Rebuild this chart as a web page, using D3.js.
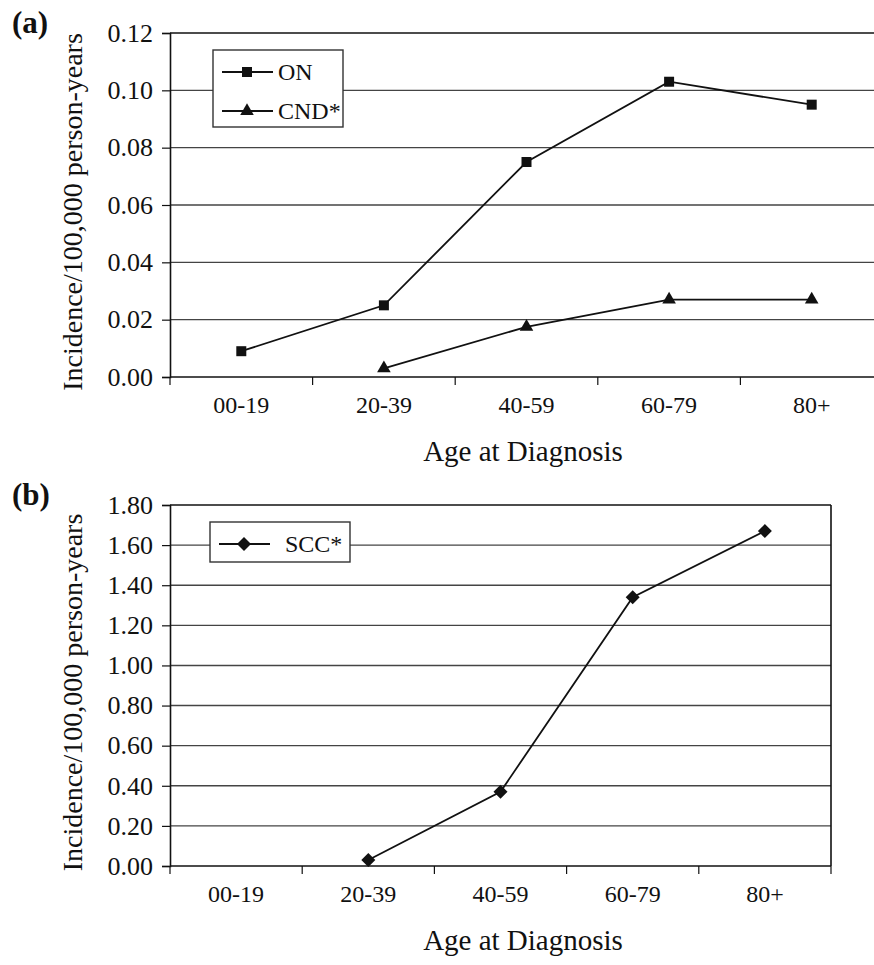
<!DOCTYPE html>
<html>
<head>
<meta charset="utf-8">
<script src="https://cdn.jsdelivr.net/npm/d3@7"></script>
<style>
  body { margin: 0; background: #fff; }
  svg text { font-family: "Liberation Serif", "Times New Roman", Times, "DejaVu Serif", serif; }
</style>
</head>
<body>
<svg id="chart" width="874" height="965"></svg>
<script>
// Age groups on the x axis
const ageGroups = ["00-19", "20-39", "40-59", "60-79", "80+"];

// Panel (a) series, incidence per 100,000 person-years
const onValues = [0.009, 0.025, 0.075, 0.103, 0.095];
const cndValues = [null, 0.003, 0.0175, 0.027, 0.027];

// Panel (b) series
const sccValues = [null, 0.03, 0.37, 1.34, 1.67];

// Tick values of the y axes
const ticksA = [0, 0.02, 0.04, 0.06, 0.08, 0.10, 0.12];
const ticksB = [0, 0.2, 0.4, 0.6, 0.8, 1.0, 1.2, 1.4, 1.6, 1.8];

const svg = d3.select("#chart");

// custom diamond, a bit wider than d3's own
const diamond = "M0,-7L7,0L0,7L-7,0Z";
const markers = {
    square: d3.symbol().type(d3.symbolSquare).size(100)(),
    triangle: d3.symbol().type(d3.symbolTriangle).size(80)(),
    diamond: diamond
};

function drawPanel(cfg) {
    const g = svg.append("g");

    const x = d3.scaleBand().domain(ageGroups).range([cfg.left, cfg.right]).padding(0);
    const y = d3.scaleLinear().domain([0, cfg.max]).range([cfg.bottom, cfg.top]);

    // horizontal gridlines
    g.selectAll(".grid")
        .data(cfg.ticks.slice(1))
        .enter()
        .append("line")
        .attr("x1", cfg.left)
        .attr("x2", cfg.right)
        .attr("y1", d => y(d))
        .attr("y2", d => y(d))
        .attr("stroke", d => d === cfg.max ? "#111" : "#444")
        .attr("stroke-width", 1.4);

    if (cfg.box) {
        g.append("line")
            .attr("x1", cfg.right).attr("x2", cfg.right)
            .attr("y1", cfg.top).attr("y2", cfg.bottom)
            .attr("stroke", "#111").attr("stroke-width", 1.6);
    }

    // y axis
    const yAxis = g.append("g")
        .attr("transform", `translate(${cfg.left},0)`)
        .call(d3.axisLeft(y).tickValues(cfg.ticks).tickSize(8).tickPadding(9).tickFormat(d3.format(".2f")));
    yAxis.attr("font-family", null).attr("font-size", null);
    yAxis.select(".domain").attr("stroke", "#111").attr("stroke-width", 1.6);
    yAxis.selectAll(".tick line").attr("stroke", "#111").attr("stroke-width", 1.2);
    yAxis.selectAll("text")
        .style("font-size", "26px")
        .attr("fill", "#111");

    // x axis baseline and ticks at band edges
    g.append("line")
        .attr("x1", cfg.left).attr("x2", cfg.right)
        .attr("y1", cfg.bottom).attr("y2", cfg.bottom)
        .attr("stroke", "#111").attr("stroke-width", 1.6);
    const edges = ageGroups.map(d => x(d)).concat([x(ageGroups[ageGroups.length - 1]) + x.bandwidth()]);
    g.selectAll(".xtick")
        .data(edges)
        .enter()
        .append("line")
        .attr("x1", d => d).attr("x2", d => d)
        .attr("y1", cfg.bottom).attr("y2", cfg.bottom + 8)
        .attr("stroke", "#111").attr("stroke-width", 1.2);
    g.selectAll(".xlabel")
        .data(ageGroups)
        .enter()
        .append("text")
        .attr("x", d => x(d) + x.bandwidth() / 2)
        .attr("y", cfg.bottom + 36)
        .attr("text-anchor", "middle")
        .style("font-size", "24px")
        .attr("fill", "#111")
        .text(d => d);

    // axis titles
    g.append("text")
        .attr("x", 523)
        .attr("y", cfg.bottom + 84)
        .attr("text-anchor", "middle")
        .style("font-size", "29px")
        .attr("fill", "#111")
        .text("Age at Diagnosis");
    g.append("text")
        .attr("transform", `translate(82,${(cfg.top + cfg.bottom) / 2 + 7}) rotate(-90)`)
        .attr("text-anchor", "middle")
        .style("font-size", "28px")
        .attr("fill", "#111")
        .text("Incidence/100,000 person-years");

    // panel tag
    g.append("text")
        .attr("x", 12)
        .attr("y", cfg.top)
        .style("font-size", "31px")
        .attr("font-weight", "bold")
        .attr("fill", "#111")
        .text(cfg.tag);

    // series lines and markers
    const line = d3.line()
        .defined(d => d.v != null)
        .x(d => x(d.age) + x.bandwidth() / 2)
        .y(d => y(d.v));

    cfg.series.forEach(s => {
        const pts = ageGroups.map((age, i) => ({ age: age, v: s.values[i] }));
        g.append("path")
            .datum(pts)
            .attr("d", line)
            .attr("fill", "none")
            .attr("stroke", "#111")
            .attr("stroke-width", 1.8);
        g.selectAll(null)
            .data(pts.filter(d => d.v != null))
            .enter()
            .append("path")
            .attr("d", markers[s.marker])
            .attr("transform", d => `translate(${x(d.age) + x.bandwidth() / 2},${y(d.v)})`)
            .attr("fill", "#111");
    });

    // legend
    const lg = g.append("g");
    lg.append("rect")
        .attr("x", cfg.legend.x)
        .attr("y", cfg.legend.y)
        .attr("width", cfg.legend.w)
        .attr("height", cfg.legend.h)
        .attr("fill", "#fff")
        .attr("stroke", "#333")
        .attr("stroke-width", 1.4);
    cfg.series.forEach((s, i) => {
        const ly = cfg.legend.y + 22 + i * 39;
        lg.append("line")
            .attr("x1", cfg.legend.x + 9).attr("x2", cfg.legend.x + 60)
            .attr("y1", ly).attr("y2", ly)
            .attr("stroke", "#111").attr("stroke-width", 1.8);
        lg.append("path")
            .attr("d", markers[s.marker])
            .attr("transform", `translate(${cfg.legend.x + 34},${ly})`)
            .attr("fill", "#111");
        lg.append("text")
            .attr("x", cfg.legend.x + cfg.legend.tx)
            .attr("y", ly + 8)
            .style("font-size", "24px")
            .attr("fill", "#111")
            .text(s.name);
    });
}

drawPanel({
    tag: "(a)",
    top: 33, bottom: 377, left: 170, right: 883,
    max: 0.12, ticks: ticksA, box: false,
    series: [
        { name: "ON", values: onValues, marker: "square" },
        { name: "CND*", values: cndValues, marker: "triangle" }
    ],
    legend: { x: 213, y: 50, w: 130, h: 77, tx: 65 }
});

drawPanel({
    tag: "(b)",
    top: 505, bottom: 866, left: 170, right: 831,
    max: 1.8, ticks: ticksB, box: true,
    series: [
        { name: "SCC*", values: sccValues, marker: "diamond" }
    ],
    legend: { x: 210, y: 522, w: 140, h: 40, tx: 75 }
});
</script>
</body>
</html>
